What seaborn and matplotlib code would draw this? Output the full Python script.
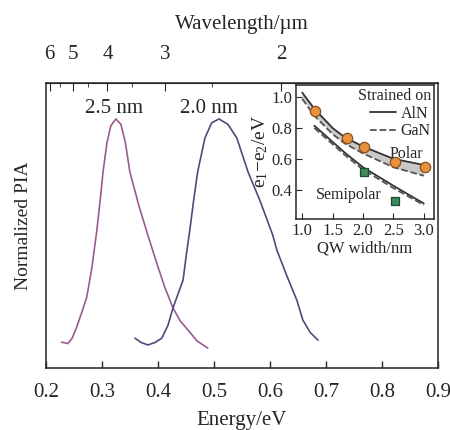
import numpy as np
import pandas as pd
import matplotlib
matplotlib.use('Agg')
import matplotlib.pyplot as plt
from matplotlib.lines import Line2D
import seaborn as sns

# PIA spectra (energy in eV, normalized intensity)
e_25 = [0.228, 0.239, 0.247, 0.255, 0.264, 0.273, 0.282, 0.291, 0.297, 0.302,
        0.309, 0.316, 0.325, 0.334, 0.342, 0.350, 0.366, 0.382, 0.398, 0.412,
        0.427, 0.440, 0.454, 0.470, 0.489]
pia_25 = [0.091, 0.086, 0.105, 0.144, 0.195, 0.249, 0.350, 0.484, 0.590, 0.688,
          0.790, 0.850, 0.874, 0.855, 0.790, 0.688, 0.570, 0.467, 0.368, 0.285,
          0.211, 0.165, 0.133, 0.095, 0.070]

e_20 = [0.359, 0.370, 0.382, 0.395, 0.407, 0.418, 0.427, 0.436, 0.445, 0.451,
        0.457, 0.464, 0.471, 0.484, 0.496, 0.509, 0.525, 0.541, 0.561, 0.582,
        0.605, 0.6125, 0.630, 0.648, 0.659, 0.672, 0.686]
pia_20 = [0.105, 0.090, 0.081, 0.090, 0.105, 0.150, 0.211, 0.260, 0.309, 0.400,
          0.484, 0.590, 0.688, 0.807, 0.860, 0.874, 0.855, 0.807, 0.688, 0.589,
          0.467, 0.414, 0.325, 0.239, 0.168, 0.125, 0.098]

bottom_ticks = [0.2, 0.3, 0.4, 0.5, 0.6, 0.7, 0.8, 0.9]
wl_major = [6, 5, 4, 3, 2]
wl_minor = [5.5, 4.5, 3.5, 2.5, 1.5]

# inset: transition energy vs QW width
qw = [1.0, 1.2, 1.5, 1.7, 2.0, 2.5, 3.0]
polar_aln = [1.03, 0.925, 0.80, 0.74, 0.68, 0.60, 0.56]
polar_gan = [0.99, 0.88, 0.76, 0.70, 0.635, 0.545, 0.49]
qw_semi = [1.2, 1.5, 1.7, 2.0, 2.5, 3.0]
semi_aln = [0.815, 0.71, 0.64, 0.545, 0.425, 0.31]
semi_gan = [0.80, 0.695, 0.625, 0.53, 0.41, 0.30]

polar_x = [1.21, 1.73, 2.02, 2.53, 3.02]
polar_y = [0.908, 0.732, 0.678, 0.58, 0.545]
semi_x = [2.02, 2.53]
semi_y = [0.512, 0.327]

sns.set_style('ticks')
plt.rcParams['font.family'] = ['Liberation Serif', 'DejaVu Serif']
plt.rcParams['mathtext.fontset'] = 'custom'
plt.rcParams['mathtext.rm'] = 'Liberation Serif'
plt.rcParams['mathtext.it'] = 'Liberation Serif:italic'

fig = plt.figure(figsize=(4.5, 4.3), dpi=100)
ax = fig.add_axes([0.102, 0.144, 0.871, 0.663])

sns.lineplot(x=e_25, y=pia_25, sort=False, color='#9b5a8c', lw=1.2, ax=ax)
sns.lineplot(x=e_20, y=pia_20, sort=False, color='#4b4c7c', lw=1.2, ax=ax)
ax.text(0.321, 0.912, '2.5 nm', ha='center', va='center', fontsize=15)
ax.text(0.491, 0.912, '2.0 nm', ha='center', va='center', fontsize=15)

ax.set_xlim(0.2, 0.9)
ax.set_ylim(0, 1)
ax.set_yticks([])
ax.set_xticks(bottom_ticks)
ax.set_xticklabels([f'{t:.1f}' for t in bottom_ticks])
ax.tick_params(axis='x', direction='in', length=5, width=1, labelsize=15, pad=11)
ax.set_xlabel('Energy/eV', fontsize=15, labelpad=6)
ax.set_ylabel('Normalized PIA', fontsize=14, labelpad=10)
for s in ax.spines.values():
    s.set_linewidth(1.1)


def to_wl(x):
    x = np.asarray(x, dtype=float)
    with np.errstate(divide='ignore'):
        return 1.2398 / x


sec = ax.secondary_xaxis('top', functions=(to_wl, to_wl))
sec.set_xticks(wl_major)
sec.set_xticks(wl_minor, minor=True)
sec.set_xticklabels([str(t) for t in wl_major])
sec.tick_params(which='major', direction='in', length=6, labelsize=15, pad=14)
sec.tick_params(which='minor', direction='in', length=3)
sec.set_xlabel('Wavelength/µm', fontsize=15, labelpad=11)

# inset
axin = fig.add_axes([0.658, 0.491, 0.3067, 0.3116])
axin.fill_between(qw, polar_gan, polar_aln, color='#c9c9c9', lw=0)
sns.lineplot(x=qw, y=polar_aln, color='#333333', lw=1.3, ax=axin)
sns.lineplot(x=qw, y=polar_gan, color='#555555', lw=1.3, ls='--', ax=axin)
sns.lineplot(x=qw_semi, y=semi_aln, color='#333333', lw=1.3, ax=axin)
sns.lineplot(x=qw_semi, y=semi_gan, color='#555555', lw=1.3, ls='--', ax=axin)
sns.scatterplot(x=polar_x, y=polar_y, color='#e8913e', edgecolor='#8a4c1c',
                s=55, linewidth=0.9, zorder=5, ax=axin)
sns.scatterplot(x=semi_x, y=semi_y, marker='s', color='#3f8a5c', edgecolor='#1d4a30',
                s=30, linewidth=0.9, zorder=5, ax=axin)

axin.text(2.72, 0.63, 'Polar', ha='center', va='center', fontsize=11.5)
axin.text(1.76, 0.366, 'Semipolar', ha='center', va='center', fontsize=11.5)

handles = [Line2D([], [], color='#333333', lw=1.3),
           Line2D([], [], color='#555555', lw=1.3, ls='--')]
leg = axin.legend(handles, ['AlN', 'GaN'], title='Strained on', loc='upper right',
                  frameon=False, fontsize=11.5, title_fontsize=11.5,
                  handlelength=1.6, handletextpad=0.3, labelspacing=0.1,
                  borderaxespad=0.1, borderpad=0.1)
leg._legend_box.align = 'right'

axin.set_xlim(0.9, 3.17)
axin.set_ylim(0.21, 1.08)
axin.set_xticks([1.0, 1.5, 2.0, 2.5, 3.0])
axin.set_xticklabels(['1.0', '1.5', '2.0', '2.5', '3.0'])
axin.set_yticks([0.4, 0.6, 0.8, 1.0])
axin.set_yticklabels(['0.4', '0.6', '0.8', '1.0'])
axin.tick_params(direction='in', length=4, labelsize=12, pad=3)
axin.set_xlabel('QW width/nm', fontsize=12, labelpad=1)
axin.set_ylabel(r'e$_1$−e$_2$/eV', fontsize=14, labelpad=1)
for s in axin.spines.values():
    s.set_linewidth(1.1)

fig.savefig('out.png', dpi=100)
